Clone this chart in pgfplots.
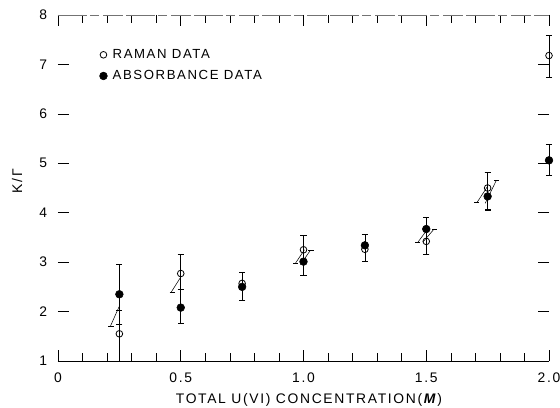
\documentclass[border=0pt]{standalone}
\usepackage{fontspec}
\setmainfont{Liberation Sans}[LetterSpace=12]
\usepackage{pgfplots}
\usepackage{pgfplotstable}
\pgfplotsset{compat=1.18}

% K/Gamma versus total U(VI) concentration: x, y, upper and lower error
\pgfplotstableread{
x    y    ep   em
0.25 1.55 0.47 0.55
0.50 2.77 0.38 0.32
0.75 2.57 0.23 0.34
1.00 3.25 0.30 0.51
1.25 3.26 0.30 0.24
1.50 3.42 0.48 0.26
1.75 4.50 0.31 0.45
2.00 7.18 0.41 0.44
}\raman
\pgfplotstableread{
x    y    ep   em
0.25 2.35 0.60 0.60
0.50 2.08 0.37 0.31
0.75 2.50 0.30 0.27
1.00 3.01 0.54 0.27
1.25 3.34 0.22 0.32
1.50 3.67 0.23 0.51
1.75 4.33 0.48 0.27
2.00 5.06 0.32 0.30
}\absorb

\begin{document}
\begin{tikzpicture}
\begin{axis}[
  at={(0,0)}, anchor=south west,
  scale only axis, width=368.25pt, height=259.5pt,
  xmin=0, xmax=2, ymin=1, ymax=8,
  clip=false,
  xtick={0,0.5,1,1.5,2}, xticklabels={0,0.5,1.0,1.5,2.0},
  minor x tick num=4,
  ytick={1,2,3,4,5,6,7,8},
  tick align=inside,
  major tick length=8pt, minor tick length=6pt,
  axis line style={draw=none},
  tick style={black, line width=0.45pt},
  /pgf/number format/assume math mode=true,
  xticklabel style={font=\fontsize{10.4}{12}\selectfont, inner sep=0pt, anchor=north, yshift=-9pt},
  yticklabel style={font=\fontsize{10.4}{12}\selectfont, inner sep=0pt, anchor=east, xshift=-8pt},
  xlabel={TOTAL U(VI) CONCENTRATION(\textbf{\textit{M}})},
  ylabel={K/Γ},
  every axis x label/.style={at={(rel axis cs:0.511,0)}, yshift=-24pt, anchor=north, inner sep=0pt, font=\fontsize{10.4}{12}\selectfont},
  every axis y label/.style={at={(rel axis cs:0,0.52)}, xshift=-30.75pt, rotate=90, anchor=center, font=\fontsize{10.5}{12}\selectfont},
  legend image code/.code={\draw[#1] plot coordinates {(0pt,0pt)};},
  legend cell align=left,
  legend style={at={(rel axis cs:0,1)}, xshift=31pt, yshift=-25.5pt, anchor=north west,
    draw=none, fill=none, inner sep=0pt, row sep=7.5pt, column sep=4pt,
    font=\fontsize{9.9}{11}\selectfont, nodes={inner sep=0pt}},
  error bars/error bar style={black, line width=0.45pt},
  error bars/error mark options={rotate=90, black, mark size=2.3pt, line width=0.5pt},
]
% axis frame: solid baseline, broken top rule
\draw[black, line width=0.5pt] (rel axis cs:0,0) -- (rel axis cs:1,0);
\draw[black!55, line width=0.45pt, dash pattern=on 22pt off 2pt on 7pt off 3pt on 15pt off 2pt]
  (rel axis cs:0,1) -- (rel axis cs:1,1);

\addplot[only marks, mark=o, mark size=2.5pt, mark options={fill=white, line width=0.6pt},
  error bars/.cd, y dir=both, y explicit]
  table[x=x, y=y, y error plus=ep, y error minus=em] {\raman};
\addlegendentry{RAMAN DATA}
\addplot[only marks, mark=*, mark size=2.9pt, black,
  error bars/.cd, y dir=both, y explicit]
  table[x=x, y=y, y error plus=ep, y error minus=em] {\absorb};
\addlegendentry{ABSORBANCE DATA}

% slanted shift indicators beside the point pairs
\pgfplotsset{every axis plot/.append style={forget plot}}
\addplot[black, line width=0.4pt] coordinates {(0.214,1.71) (0.249,2.10)};
\addplot[black, line width=0.4pt] coordinates {(0.204,1.71) (0.228,1.71)};
\addplot[black, line width=0.4pt] coordinates {(0.462,2.40) (0.499,2.69)};
\addplot[black, line width=0.4pt] coordinates {(0.455,2.40) (0.476,2.40)};
\addplot[black, line width=0.4pt] coordinates {(0.966,2.97) (1.004,3.25)};
\addplot[black, line width=0.4pt] coordinates {(0.958,2.97) (0.978,2.97)};
\addplot[black, line width=0.4pt] coordinates {(0.988,2.95) (1.028,3.24)};
\addplot[black, line width=0.4pt] coordinates {(1.020,3.25) (1.042,3.25)};
\addplot[black, line width=0.4pt] coordinates {(1.467,3.41) (1.507,3.68)};
\addplot[black, line width=0.4pt] coordinates {(1.455,3.41) (1.475,3.41)};
\addplot[black, line width=0.4pt] coordinates {(1.487,3.41) (1.532,3.67)};
\addplot[black, line width=0.4pt] coordinates {(1.525,3.67) (1.545,3.67)};
\addplot[black, line width=0.4pt] coordinates {(1.707,4.21) (1.748,4.52)};
\addplot[black, line width=0.4pt] coordinates {(1.695,4.21) (1.715,4.21)};
\addplot[black, line width=0.4pt] coordinates {(1.740,4.19) (1.785,4.65)};
\addplot[black, line width=0.4pt] coordinates {(1.775,4.66) (1.797,4.66)};
\end{axis}
\pgfresetboundingbox
\path[use as bounding box] (-43.5pt,-34.5pt) rectangle (376.5pt,270.75pt);
\end{tikzpicture}
\end{document}
